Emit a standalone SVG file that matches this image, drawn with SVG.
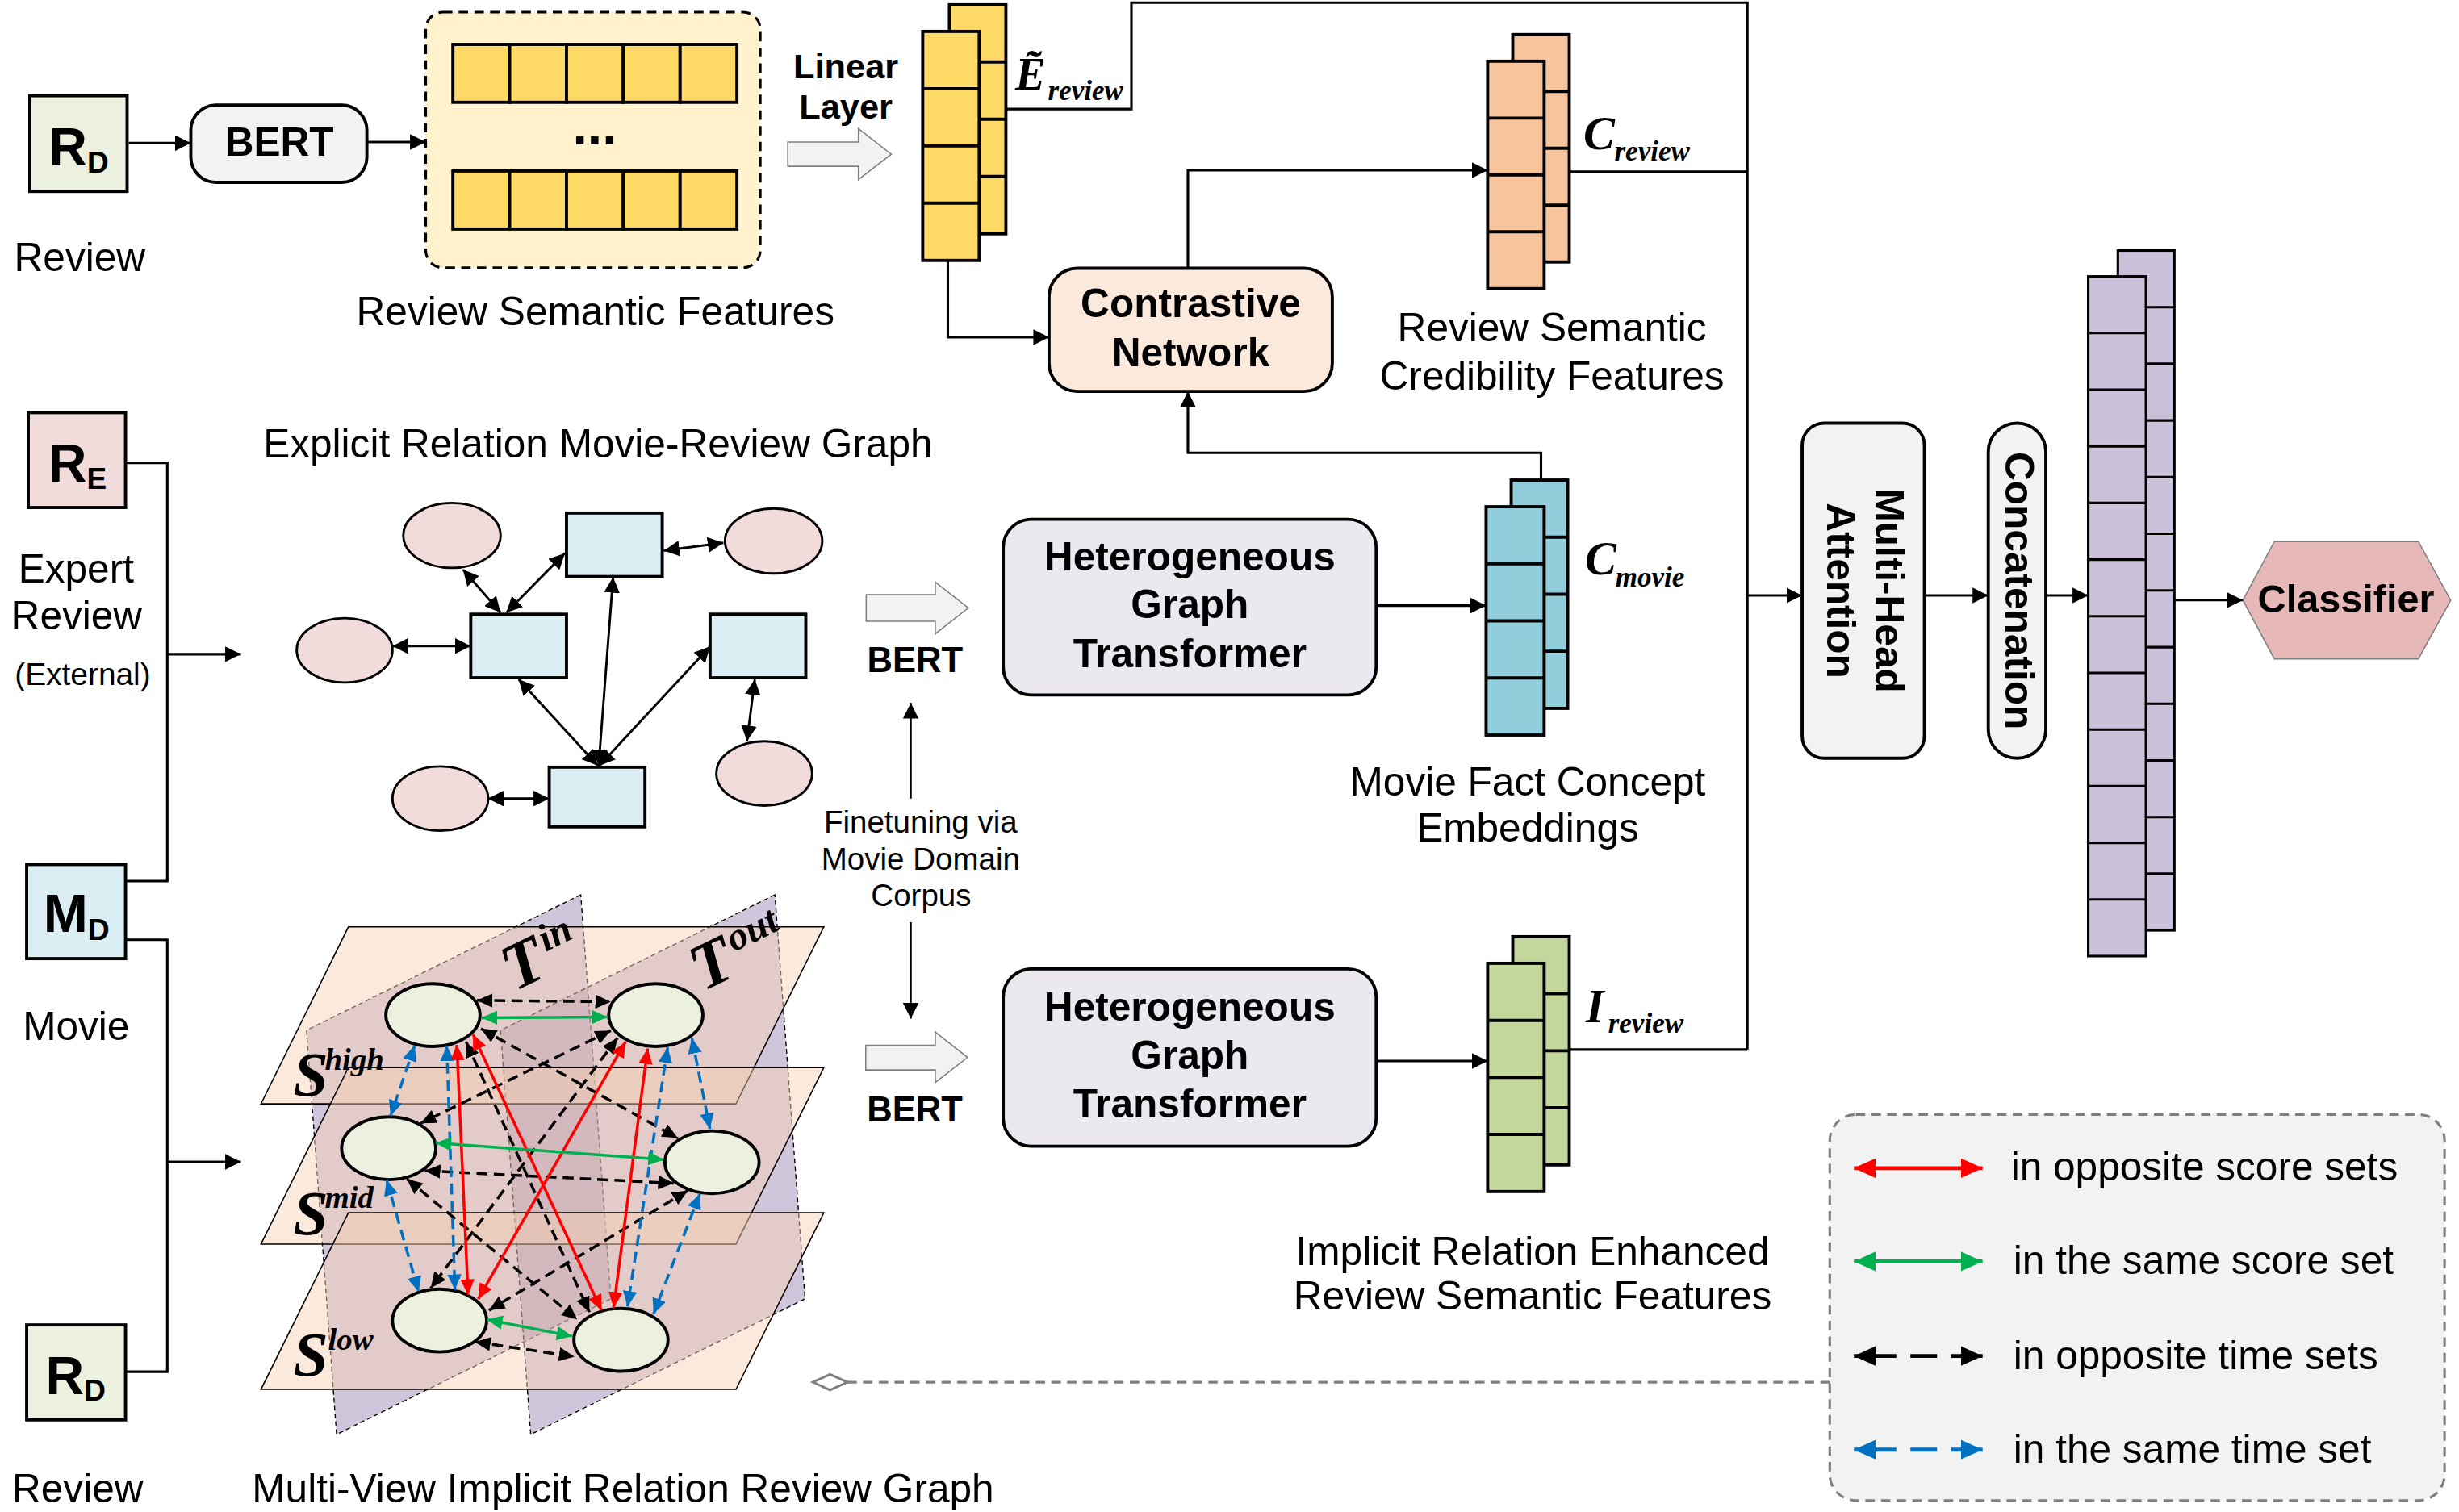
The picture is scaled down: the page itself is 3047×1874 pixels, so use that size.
<svg xmlns="http://www.w3.org/2000/svg" width="3047" height="1874" viewBox="0 0 3047 1874">
<defs>
<style>
.t{font-family:'Liberation Sans',Arial,sans-serif;font-size:25.5px;fill:#000}
.b{font-weight:bold}
.m{font-family:'Liberation Serif','Times New Roman',serif;font-style:italic;font-weight:bold;fill:#000}
.ln{fill:none;stroke:#000;stroke-width:1.6}
.box{stroke:#000;stroke-width:2}
.dv{fill:none;stroke:#000;stroke-width:2}
.hollow{fill:#F2F2F2;stroke:#7F7F7F;stroke-width:0.8}
.node{fill:#EBF1DE;stroke:#000;stroke-width:2}
.circ{fill:#F2DCDB;stroke:#000;stroke-width:1.5}
.sq{fill:#DAEEF3;stroke:#000;stroke-width:2}
.ex{fill:none;stroke:#000;stroke-width:1.5;marker-start:url(#ah);marker-end:url(#ah)}
.er{stroke:#FF0000;stroke-width:1.8;marker-start:url(#hr);marker-end:url(#hr)}
.eg{stroke:#00B050;stroke-width:1.8;marker-start:url(#hg);marker-end:url(#hg)}
.eb{stroke:#0070C0;stroke-width:1.8;stroke-dasharray:7 4;marker-start:url(#hb);marker-end:url(#hb)}
.ek{stroke:#000;stroke-width:1.8;stroke-dasharray:7 4;marker-start:url(#hk);marker-end:url(#hk)}
</style>
<marker id="ah" markerUnits="userSpaceOnUse" markerWidth="10" markerHeight="10" viewBox="0 0 10 10" refX="10" refY="5" orient="auto-start-reverse"><path d="M0,0L10,5L0,10z" fill="#000"/></marker>
<marker id="hk" markerUnits="strokeWidth" markerWidth="5.5" markerHeight="5" viewBox="0 0 11 10" refX="11" refY="5" orient="auto-start-reverse"><path d="M0,0L11,5L0,10z" fill="#000"/></marker>
<marker id="hr" markerUnits="strokeWidth" markerWidth="5.5" markerHeight="5" viewBox="0 0 11 10" refX="11" refY="5" orient="auto-start-reverse"><path d="M0,0L11,5L0,10z" fill="#FF0000"/></marker>
<marker id="hg" markerUnits="strokeWidth" markerWidth="5.5" markerHeight="5" viewBox="0 0 11 10" refX="11" refY="5" orient="auto-start-reverse"><path d="M0,0L11,5L0,10z" fill="#00B050"/></marker>
<marker id="hb" markerUnits="strokeWidth" markerWidth="5.5" markerHeight="5" viewBox="0 0 11 10" refX="11" refY="5" orient="auto-start-reverse"><path d="M0,0L11,5L0,10z" fill="#0070C0"/></marker>
<marker id="dia" markerUnits="userSpaceOnUse" markerWidth="26" markerHeight="14" viewBox="-2 -2 26 14" refX="22" refY="5" orient="auto"><path d="M0,5L11,0L22,5L11,10z" fill="#FFFFFF" stroke="#7F7F7F" stroke-width="1.5"/></marker>
</defs>
<rect width="3047" height="1874" fill="#FFFFFF"/>
<g transform="scale(1.9445)">

<g id="review-top">
<rect x="19" y="61" width="62" height="61" fill="#EBF1DE" class="box"/>
<text class="t b" style="font-size:34px" x="31" y="105.5">R<tspan style="font-size:19px" dy="4.6">D</tspan></text>
<text class="t" x="9" y="173">Review</text>
</g>

<g id="bert-top">
<rect x="121.6" y="67" width="112.2" height="49.2" rx="16" fill="#F2F2F2" class="box"/>
<text class="t b" x="178" y="99" text-anchor="middle">BERT</text>
</g>

<g id="review-semantic-features">
<rect x="271.3" y="7.7" width="213.2" height="162.9" rx="11" fill="#FFF2CC" stroke="#000" stroke-width="1.6" stroke-dasharray="6 4"/>
<g fill="#FFD966" class="box">
<rect x="288.6" y="28.3" width="36.2" height="36.9"/><rect x="324.8" y="28.3" width="36.2" height="36.9"/><rect x="361" y="28.3" width="36.2" height="36.9"/><rect x="397.2" y="28.3" width="36.2" height="36.9"/><rect x="433.4" y="28.3" width="36.2" height="36.9"/>
<rect x="288.6" y="109" width="36.2" height="37"/><rect x="324.8" y="109" width="36.2" height="37"/><rect x="361" y="109" width="36.2" height="37"/><rect x="397.2" y="109" width="36.2" height="37"/><rect x="433.4" y="109" width="36.2" height="37"/>
</g>
<text class="t b" style="font-size:34px" x="379" y="92" text-anchor="middle">...</text>
<text class="t" x="379.4" y="207.4" text-anchor="middle">Review Semantic Features</text>
</g>

<g id="linear-layer">
<text class="t b" style="font-size:22.3px" x="539" y="49.7" text-anchor="middle">Linear</text>
<text class="t b" style="font-size:22.3px" x="539" y="75.4" text-anchor="middle">Layer</text>
<path class="hollow" d="M502,90.5H547V82L568,98.3L547,114.5V106H502Z"/>
</g>

<g id="e-review">
<rect x="605" y="3" width="36" height="146" fill="#FFD966" class="box"/>
<path class="dv" d="M605,39.5H641M605,76H641M605,112.5H641"/>
<rect x="588" y="20" width="36" height="146" fill="#FFD966" class="box"/>
<path class="dv" d="M588,56.5H624M588,93H624M588,129.5H624"/>
<text class="m" style="font-size:29px" x="647" y="57">Ẽ<tspan style="font-size:18px" x="667.8" y="63.8">review</tspan></text>
</g>

<g id="contrastive-network">
<rect x="668.5" y="171" width="180.5" height="78.5" rx="18" fill="#FBE9DC" class="box"/>
<text class="t b" x="758.8" y="202.3" text-anchor="middle">Contrastive</text>
<text class="t b" x="758.8" y="233.5" text-anchor="middle">Network</text>
</g>

<g id="c-review">
<rect x="964" y="22" width="36" height="145" fill="#F8C49C" class="box"/>
<path class="dv" d="M964,58.25H1000M964,94.5H1000M964,130.75H1000"/>
<rect x="948" y="39" width="36" height="145" fill="#F8C49C" class="box"/>
<path class="dv" d="M948,75.25H984M948,111.5H984M948,147.75H984"/>
<text class="m" style="font-size:30px" x="1009" y="95.1">C<tspan style="font-size:18px" x="1028.8" y="102.5">review</tspan></text>
<text class="t" x="989" y="217.7" text-anchor="middle">Review Semantic</text>
<text class="t" x="989" y="248.5" text-anchor="middle">Credibility Features</text>
</g>

<g id="expert-review">
<rect x="18" y="263" width="62" height="60.5" fill="#F2DCDB" class="box"/>
<text class="t b" style="font-size:34px" x="30.7" y="306.9">R<tspan style="font-size:19px" dy="4.9">E</tspan></text>
<text class="t" x="48.5" y="371.2" text-anchor="middle">Expert</text>
<text class="t" x="48.8" y="401.3" text-anchor="middle">Review</text>
<text class="t" style="font-size:20px" x="52.7" y="436.8" text-anchor="middle">(External)</text>
</g>

<g id="movie">
<rect x="17" y="551" width="63" height="60" fill="#DAEEF3" class="box"/>
<text class="t b" style="font-size:34px" x="27.7" y="594">M<tspan style="font-size:19px" dy="5">D</tspan></text>
<text class="t" x="48.5" y="663" text-anchor="middle">Movie</text>
</g>

<g id="review-bottom">
<rect x="17" y="844.5" width="63" height="60.5" fill="#EBF1DE" class="box"/>
<text class="t b" style="font-size:34px" x="29" y="888.6">R<tspan style="font-size:19px" dy="4.3">D</tspan></text>
<text class="t" x="7.7" y="957.5">Review</text>
</g>

<g id="explicit-graph">
<text class="t" x="381" y="291.7" text-anchor="middle">Explicit Relation Movie-Review Graph</text>
<ellipse class="circ" cx="288" cy="341.3" rx="31" ry="20.7"/>
<ellipse class="circ" cx="493" cy="344.8" rx="31" ry="20.7"/>
<ellipse class="circ" cx="219.6" cy="414.5" rx="30.5" ry="20.5"/>
<ellipse class="circ" cx="280.6" cy="509" rx="30.5" ry="20.5"/>
<ellipse class="circ" cx="487" cy="493" rx="30.5" ry="20.5"/>
<rect class="sq" x="361" y="327" width="61" height="40.5"/>
<rect class="sq" x="300" y="391.5" width="61" height="40.5"/>
<rect class="sq" x="452.5" y="391.5" width="61" height="40.5"/>
<rect class="sq" x="350" y="489" width="61" height="38"/>
<g id="explicit-edges">
<path class="ex" d="M295,363L319,390.5"/>
<path class="ex" d="M322.7,390.5L360,352.6"/>
<path class="ex" d="M423,351L461,346"/>
<path class="ex" d="M250,411.8L300,411.8"/>
<path class="ex" d="M381,488L330.5,433"/>
<path class="ex" d="M381.5,488L390.7,367.8"/>
<path class="ex" d="M382,488L452.5,412"/>
<path class="ex" d="M481,433L476,472.5"/>
<path class="ex" d="M311,509L350,509"/>
</g>
</g>

<g id="bert-explicit">
<path class="hollow" d="M552,379H596V371L617,387.5L596,404V396H552Z"/>
<text class="t b" style="font-size:22.4px" x="583.1" y="428.4" text-anchor="middle">BERT</text>
</g>

<g id="finetuning">
<text class="t" style="font-size:19.8px" x="586.7" y="530.7" text-anchor="middle">Finetuning via</text>
<text class="t" style="font-size:19.8px" x="586.7" y="554.4" text-anchor="middle">Movie Domain</text>
<text class="t" style="font-size:19.8px" x="587" y="577.6" text-anchor="middle">Corpus</text>
</g>

<g id="hgt-top">
<rect x="639.3" y="331" width="237.7" height="112" rx="18" fill="#EBE8F0" class="box"/>
<text class="t b" x="758.2" y="363.4" text-anchor="middle">Heterogeneous</text>
<text class="t b" x="758.2" y="394" text-anchor="middle">Graph</text>
<text class="t b" x="758.2" y="425.3" text-anchor="middle">Transformer</text>
</g>

<g id="c-movie">
<rect x="963" y="306" width="36" height="145.5" fill="#92CDDC" class="box"/>
<path class="dv" d="M963,342.4H999M963,378.75H999M963,415.1H999"/>
<rect x="947" y="323" width="37" height="145.5" fill="#92CDDC" class="box"/>
<path class="dv" d="M947,359.4H984M947,395.75H984M947,432.1H984"/>
<text class="m" style="font-size:30px" x="1010" y="366">C<tspan style="font-size:18px" x="1029.5" y="373.7">movie</tspan></text>
<text class="t" x="973.5" y="507" text-anchor="middle">Movie Fact Concept</text>
<text class="t" x="973.5" y="536.6" text-anchor="middle">Embeddings</text>
</g>

<g id="implicit-graph">
<polygon points="370.1,570.3 195.3,656.7 214.5,914.3 389.3,827.9" fill="#8770A8" fill-opacity="0.4" stroke="#000" stroke-width="0.7" stroke-dasharray="3 2"/>
<polygon points="493.8,570.3 319,656.7 338.2,914.3 513,827.9" fill="#8770A8" fill-opacity="0.4" stroke="#000" stroke-width="0.7" stroke-dasharray="3 2"/>
<polygon points="222,590.8 525,590.8 469,703.6 166.3,703.6" fill="#F7D1B4" fill-opacity="0.48" stroke="#000" stroke-width="0.8"/>
<polygon points="222,680.5 525,680.5 469,793 166.3,793" fill="#F7D1B4" fill-opacity="0.48" stroke="#000" stroke-width="0.8"/>
<polygon points="222,773 525,773 469,885.6 166.3,885.6" fill="#F7D1B4" fill-opacity="0.48" stroke="#000" stroke-width="0.8"/>
<text class="m" style="font-size:42px" transform="translate(328,632) rotate(-26)">T<tspan style="font-size:25px" dx="3" dy="-14">in</tspan></text>
<text class="m" style="font-size:42px" transform="translate(448,632) rotate(-26)">T<tspan style="font-size:25px" dx="3" dy="-14">out</tspan></text>
<text class="m" style="font-size:40px" x="187" y="698.5">S<tspan style="font-size:20px" x="207" y="681.9">high</tspan></text>
<text class="m" style="font-size:40px" x="187" y="787">S<tspan style="font-size:20px" x="207" y="769.7">mid</tspan></text>
<text class="m" style="font-size:40px" x="187" y="877">S<tspan style="font-size:20px" x="209" y="860.2">low</tspan></text>
<ellipse class="node" cx="275.9" cy="647" rx="30" ry="20"/>
<ellipse class="node" cx="417.9" cy="647" rx="30" ry="20"/>
<ellipse class="node" cx="247.7" cy="731.9" rx="30" ry="20"/>
<ellipse class="node" cx="453.7" cy="740.8" rx="30" ry="20"/>
<ellipse class="node" cx="280.1" cy="841.7" rx="30" ry="20"/>
<ellipse class="node" cx="395.7" cy="854" rx="30" ry="20"/>
<g id="implicit-edges">
<line class="ek" x1="304" y1="637.6" x2="389.2" y2="638.5"/>
<line class="ek" x1="306.5" y1="655.7" x2="431.9" y2="725.4"/>
<line class="ek" x1="389.2" y1="656.9" x2="268.1" y2="716"/>
<line class="ek" x1="297" y1="664" x2="375.6" y2="836.4"/>
<line class="ek" x1="393.5" y1="661.6" x2="274.5" y2="821"/>
<line class="ek" x1="270.7" y1="746.2" x2="429.3" y2="754.2"/>
<line class="ek" x1="259.2" y1="751.4" x2="367.9" y2="841.1"/>
<line class="ek" x1="438.3" y1="758.9" x2="311.6" y2="835.2"/>
<line class="ek" x1="302.7" y1="855.3" x2="366.1" y2="864.7"/>
<line class="eb" x1="264.3" y1="666.4" x2="248.9" y2="711.2"/>
<line class="eb" x1="284.7" y1="666.4" x2="289.9" y2="822.2"/>
<line class="eb" x1="246.4" y1="752.1" x2="266.8" y2="823.4"/>
<line class="eb" x1="440.9" y1="661.6" x2="452.4" y2="719.5"/>
<line class="eb" x1="425.5" y1="667.6" x2="399.9" y2="832.8"/>
<line class="eb" x1="446" y1="760.8" x2="416.5" y2="837.5"/>
<line class="er" x1="291.1" y1="665.9" x2="298.3" y2="825.3"/>
<line class="er" x1="301.4" y1="659.3" x2="383.3" y2="835.2"/>
<line class="er" x1="398.6" y1="664" x2="304.7" y2="828.1"/>
<line class="er" x1="412.7" y1="668.3" x2="391" y2="833.5"/>
<line class="eg" x1="307" y1="648.7" x2="387.1" y2="648.2"/>
<line class="eg" x1="277.6" y1="728.5" x2="422.9" y2="739.1"/>
<line class="eg" x1="310.3" y1="841.1" x2="364.6" y2="851.7"/>
</g>
<text class="t" x="397" y="957.5" text-anchor="middle">Multi-View Implicit Relation Review Graph</text>
</g>

<g id="bert-implicit">
<path class="hollow" d="M551.7,666.3H596V657.8L616.6,674L596,690V682H551.7Z"/>
<text class="t b" style="font-size:22.4px" x="583" y="714.8" text-anchor="middle">BERT</text>
</g>

<g id="hgt-bottom">
<rect x="639.3" y="617.6" width="237.7" height="113" rx="18" fill="#EBE8F0" class="box"/>
<text class="t b" x="758.2" y="650.6" text-anchor="middle">Heterogeneous</text>
<text class="t b" x="758.2" y="681.4" text-anchor="middle">Graph</text>
<text class="t b" x="758.2" y="712.3" text-anchor="middle">Transformer</text>
</g>

<g id="i-review">
<rect x="964" y="597" width="36" height="145.5" fill="#C3D69B" class="box"/>
<path class="dv" d="M964,633.4H1000M964,669.75H1000M964,706.1H1000"/>
<rect x="948" y="614" width="36" height="145.5" fill="#C3D69B" class="box"/>
<path class="dv" d="M948,650.4H984M948,686.75H984M948,723.1H984"/>
<text class="m" style="font-size:30px" x="1010.5" y="651.4">I<tspan style="font-size:18px" x="1024.8" y="658.3">review</tspan></text>
<text class="t" x="976.6" y="806.3" text-anchor="middle">Implicit Relation Enhanced</text>
<text class="t" x="976.6" y="834.7" text-anchor="middle">Review Semantic Features</text>
</g>

<g id="multi-head-attention">
<rect x="1148.4" y="269.7" width="77.9" height="213.6" rx="14" fill="#F2F2F2" class="box"/>
<text class="t b" transform="translate(1187.4,376.5) rotate(90)" text-anchor="middle"><tspan x="0" y="-8">Multi-Head</tspan><tspan x="0" y="22.9">Attention</tspan></text>
</g>

<g id="concatenation">
<rect x="1267" y="269.7" width="36.7" height="213.6" rx="18.35" fill="#F2F2F2" class="box"/>
<text class="t b" transform="translate(1285.4,376.5) rotate(90)" text-anchor="middle" x="0" y="7.6">Concatenation</text>
</g>

<g id="concat-vector">
<rect x="1349.6" y="159.7" width="36" height="433.3" fill="#CCC1DA" stroke="#000" stroke-width="1.6"/>
<path fill="none" stroke="#000" stroke-width="1.6" d="M1349.6,195.8H1385.6M1349.6,231.9H1385.6M1349.6,268H1385.6M1349.6,304.1H1385.6M1349.6,340.2H1385.6M1349.6,376.3H1385.6M1349.6,412.5H1385.6M1349.6,448.6H1385.6M1349.6,484.7H1385.6M1349.6,520.8H1385.6M1349.6,556.9H1385.6"/>
<rect x="1330.7" y="176.2" width="36.8" height="433.2" fill="#CCC1DA" stroke="#000" stroke-width="1.6"/>
<path fill="none" stroke="#000" stroke-width="1.6" d="M1330.7,212.3H1367.5M1330.7,248.4H1367.5M1330.7,284.5H1367.5M1330.7,320.6H1367.5M1330.7,356.7H1367.5M1330.7,392.8H1367.5M1330.7,428.9H1367.5M1330.7,465H1367.5M1330.7,501.1H1367.5M1330.7,537.2H1367.5M1330.7,573.3H1367.5"/>
</g>

<g id="classifier">
<polygon points="1429.3,382.6 1449.3,345.2 1541.1,345.2 1561.7,382.6 1541.1,420 1449.3,420" fill="#E6B9B8" stroke="#7F7F7F" stroke-width="0.8"/>
<text class="t b" style="font-size:25px" x="1495" y="390.3" text-anchor="middle">Classifier</text>
</g>

<g id="legend">
<rect x="1166" y="710.4" width="391.8" height="246" rx="16.6" fill="#F2F2F2" stroke="#7F7F7F" stroke-width="1.6" stroke-dasharray="6 4"/>
<line class="er" style="stroke-width:2.5" x1="1181.4" y1="744.6" x2="1263.4" y2="744.6"/>
<text class="t" x="1281.4" y="752.5">in opposite score sets</text>
<line class="eg" style="stroke-width:2.5" x1="1181.4" y1="804" x2="1263.4" y2="804"/>
<text class="t" x="1283" y="812.2">in the same score set</text>
<line class="ek" style="stroke-width:2.5;stroke-dasharray:27 9 17 9 40" x1="1181.4" y1="864.3" x2="1263.4" y2="864.3"/>
<text class="t" x="1283" y="872.5">in opposite time sets</text>
<line class="eb" style="stroke-width:2.5;stroke-dasharray:27 9 17 9 40" x1="1181.4" y1="924" x2="1263.4" y2="924"/>
<text class="t" x="1283" y="932.2">in the same time set</text>
</g>

<g id="connectors" class="ln">
<path d="M82,91.2H121.6" marker-end="url(#ah)"/>
<path d="M233.8,90.5H271.3" marker-end="url(#ah)"/>
<path d="M641,69.5H721V1.7H1113.5V669"/>
<path d="M1000,669H1113.5"/>
<path d="M1000,109.4H1113.5"/>
<path d="M1113.5,379.5H1148.4" marker-end="url(#ah)"/>
<path d="M604,166V215H668.5" marker-end="url(#ah)"/>
<path d="M757,171V108.5H948" marker-end="url(#ah)"/>
<path d="M982,306V288.6H757V249.5" marker-end="url(#ah)"/>
<path d="M877,386H947" marker-end="url(#ah)"/>
<path d="M877,676.3H948" marker-end="url(#ah)"/>
<path d="M80,295H106.6V561.6H80"/>
<path d="M106.6,417H153.5" marker-end="url(#ah)"/>
<path d="M80,599H106.6V874.3H80"/>
<path d="M106.6,740.6H153.5" marker-end="url(#ah)"/>
<path d="M580.4,509V448" style="stroke-width:1.2" marker-end="url(#ah)"/>
<path d="M580.4,587.8V649.3" style="stroke-width:1.2" marker-end="url(#ah)"/>
<path d="M1226.3,379.5H1267" marker-end="url(#ah)"/>
<path d="M1303.7,379.5H1330.7" marker-end="url(#ah)"/>
<path d="M1385.6,382.5H1429.3" marker-end="url(#ah)"/>
<path d="M540,881H1166" style="stroke:#7F7F7F;stroke-dasharray:6 4" marker-start="url(#dia)"/>
</g>

</g>
</svg>
